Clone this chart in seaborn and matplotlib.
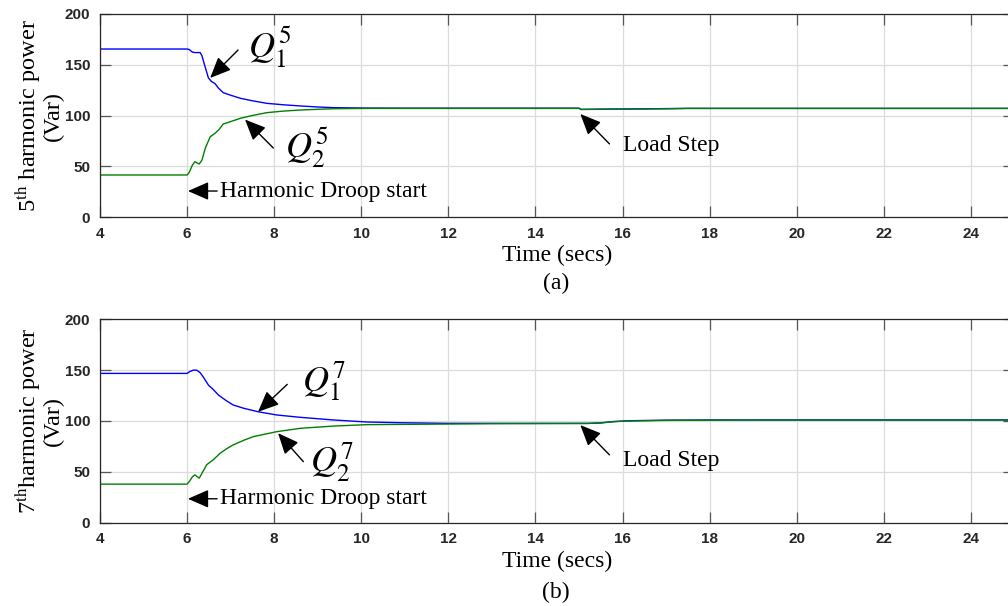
import numpy as np
import pandas as pd
import matplotlib.pyplot as plt
import seaborn as sns

# ---- data ------------------------------------------------------------------
# panel (a): 5th harmonic reactive power
t5_q1 = [4.0, 6.0, 6.05, 6.12, 6.18, 6.30, 6.34, 6.40, 6.49, 6.56, 6.64, 6.72,
         6.83, 7.0, 7.22, 7.5, 7.83, 8.2, 8.6, 9.0, 9.36, 10.2, 11.0, 13.5,
         15.0, 15.05, 15.5, 16.5, 17.5, 25.0]
q1_5 = [165.5, 165.5, 165.0, 162.5, 162, 162, 159, 150, 137, 133.5, 131.5, 127,
        122.5, 120, 117, 114.5, 112, 110.6, 109.4, 108.4, 107.7, 107.3, 107.2, 107.2,
        107.2, 106.0, 106.3, 106.6, 107.0, 107.0]
t5_q2 = [4.0, 6.0, 6.05, 6.12, 6.18, 6.24, 6.28, 6.34, 6.42, 6.53, 6.64, 6.73,
         6.83, 7.0, 7.22, 7.5, 7.83, 8.2, 8.6, 9.0, 9.36, 10.2, 11.0, 15.0, 15.05,
         16.0, 17.0, 17.5, 25.0]
q2_5 = [41.4, 41.4, 44, 51, 54.5, 53, 52.2, 56, 68, 79, 82.4, 86,
        91.6, 94, 97.2, 100, 102.8, 104.3, 105.4, 106.1, 106.7, 107.0, 107.0, 107.0, 106.0,
        106.2, 106.6, 107.0, 107.0]

# panel (b): 7th harmonic reactive power
t7_q1 = [4.0, 6.0, 6.06, 6.14, 6.22, 6.30, 6.37, 6.49, 6.6, 6.72, 6.9, 7.06,
         7.3, 7.64, 8.06, 8.6, 9.36, 10.13, 10.9, 11.97, 15.2, 15.5, 15.8, 16.2,
         17.0, 18.0, 25.0]
q1_7 = [146.8, 146.8, 148.5, 150, 150, 147.5, 143.4, 135.3, 131, 125.5, 120, 115.7,
        112.5, 109, 105.9, 103.6, 101, 99, 98.3, 97.7, 97.7, 98.0, 99.5, 100.3,
        100.8, 101.0, 101.0]
t7_q2 = [4.0, 6.0, 6.06, 6.12, 6.18, 6.24, 6.28, 6.36, 6.45, 6.6, 6.76, 6.9,
         7.06, 7.3, 7.52, 8.06, 8.6, 9.36, 10.13, 11.97, 13.0, 15.2, 16.0, 17.0,
         19.0, 25.0]
q2_7 = [37.9, 37.9, 41, 45, 47, 45, 43.8, 50, 57, 61.8, 68.3, 72.5,
        76.5, 81, 84.6, 89.5, 92.8, 95, 96.4, 97.0, 97.3, 97.5, 99.8, 100.6,
        101.0, 101.0]

x_ticks = [4, 6, 8, 10, 12, 14, 16, 18, 20, 22, 24]
y_ticks = [0, 50, 100, 150, 200]

sns.set_theme(style='ticks')
plt.rcParams['font.family'] = ['Liberation Serif', 'DejaVu Serif']
plt.rcParams['mathtext.fontset'] = 'stix'
plt.rcParams['text.color'] = 'black'
plt.rcParams['axes.labelcolor'] = 'black'

BLUE = '#0000ff'
GREEN = '#008000'
ARROW = dict(arrowstyle='-|>,head_length=0.8,head_width=0.35', color='black',
             lw=1.0, mutation_scale=16, shrinkA=0, shrinkB=0)


def draw_panel(ax, t1, q1, t2, q2, order):
    df1 = pd.DataFrame({'t': t1, 'q': q1})
    df2 = pd.DataFrame({'t': t2, 'q': q2})
    sns.lineplot(data=df1, x='t', y='q', ax=ax, color=BLUE, lw=1.0)
    sns.lineplot(data=df2, x='t', y='q', ax=ax, color=GREEN, lw=1.0)

    ax.set_xlim(4, 25)
    ax.set_ylim(0, 200)
    ax.set_xticks(x_ticks)
    ax.set_yticks(y_ticks)
    ax.grid(True, color='#dcdcdc', lw=0.9)
    ax.tick_params(direction='in', length=8, width=0.9, top=True, right=True,
                   colors='#555555', labelcolor='#262626', pad=7)
    for lab in ax.get_xticklabels() + ax.get_yticklabels():
        lab.set_family('Liberation Sans')
        lab.set_weight('bold')
        lab.set_fontsize(11)
    for sp in ax.spines.values():
        sp.set_color('#262626')
        sp.set_linewidth(0.9)

    ax.set_xlabel('Time (secs)', fontsize=17, labelpad=3)
    sep = ' ' if order == 5 else ''
    ax.set_ylabel(rf'{order}$^{{\rm th}}${sep}harmonic power' + '\n(Var)',
                  fontsize=17.5, linespacing=0.95)
    ax.yaxis.set_label_coords(-0.040, 0.5)
    return ax


fig = plt.figure(figsize=(10.08, 6.06), dpi=100)
ax_a = fig.add_axes([0.0992, 0.6419, 0.9072, 0.335])
ax_b = fig.add_axes([0.0992, 0.1375, 0.9072, 0.3356])

draw_panel(ax_a, t5_q1, q1_5, t5_q2, q2_5, 5)
draw_panel(ax_b, t7_q1, q1_7, t7_q2, q2_7, 7)

# annotations panel (a)
ax_a.annotate('', xy=(6.53, 137), xytext=(7.17, 164.5), arrowprops=ARROW)
ax_a.text(7.40, 167, r'$Q_1^5$', fontsize=26, ha='left', va='center')
ax_a.annotate('', xy=(7.33, 96), xytext=(7.98, 68), arrowprops=ARROW)
ax_a.text(8.25, 68, r'$Q_2^5$', fontsize=26, ha='left', va='center')
ax_a.annotate('', xy=(6.02, 25.6), xytext=(6.69, 25.6), arrowprops=ARROW)
ax_a.text(6.76, 25.6, 'Harmonic Droop start', fontsize=17, ha='left', va='center')
ax_a.annotate('', xy=(15.03, 101.5), xytext=(15.70, 72), arrowprops=ARROW)
ax_a.text(16.02, 70, 'Load Step', fontsize=17, ha='left', va='center')

# annotations panel (b)
ax_b.annotate('', xy=(7.63, 109), xytext=(8.30, 136), arrowprops=ARROW)
ax_b.text(8.64, 139, r'$Q_1^7$', fontsize=26, ha='left', va='center')
ax_b.annotate('', xy=(8.09, 88), xytext=(8.67, 60), arrowprops=ARROW)
ax_b.text(8.83, 59, r'$Q_2^7$', fontsize=26, ha='left', va='center')
ax_b.annotate('', xy=(6.02, 23.5), xytext=(6.69, 23.5), arrowprops=ARROW)
ax_b.text(6.76, 23.5, 'Harmonic Droop start', fontsize=17, ha='left', va='center')
ax_b.annotate('', xy=(15.03, 96), xytext=(15.70, 66.7), arrowprops=ARROW)
ax_b.text(16.02, 61, 'Load Step', fontsize=17, ha='left', va='center')

fig.text(556 / 1008, 1 - 283 / 606, '(a)', fontsize=17, ha='center', va='center')
fig.text(556 / 1008, 1 - 592 / 606, '(b)', fontsize=17, ha='center', va='center')

fig.savefig('out.png', dpi=100)
